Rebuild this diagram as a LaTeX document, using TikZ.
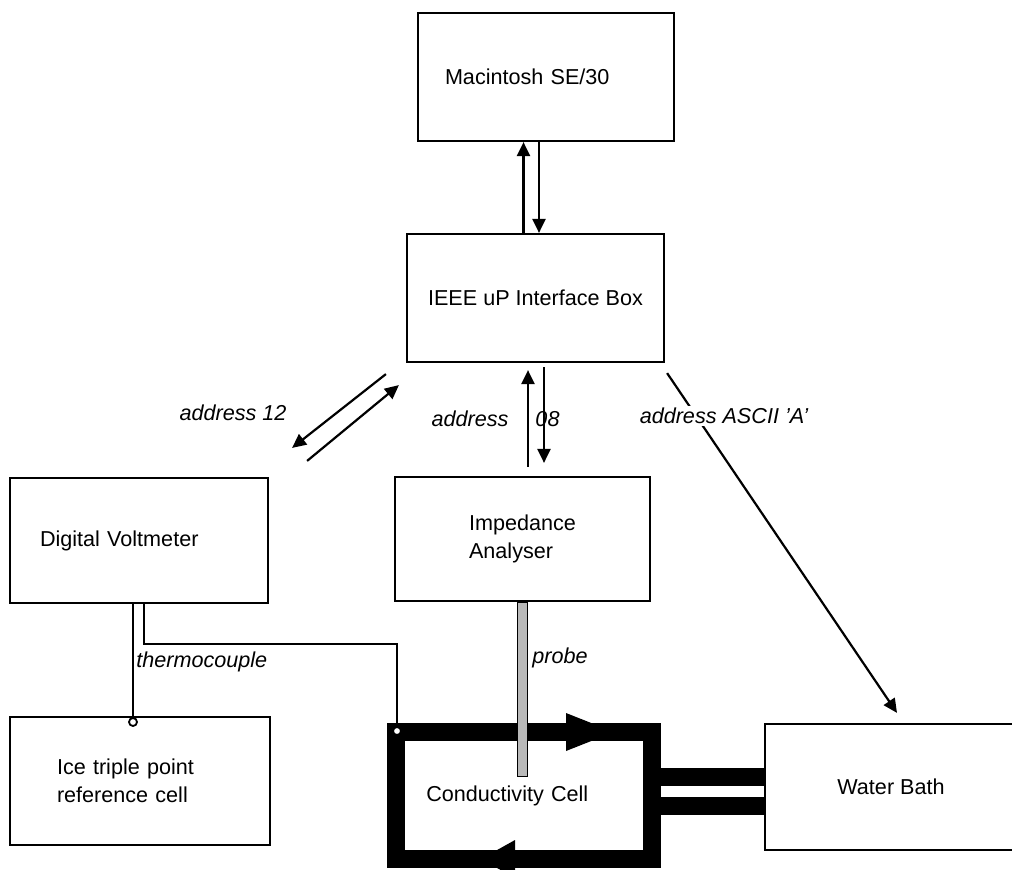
\documentclass[tikz,border=0pt]{standalone}
\usepackage{fontspec}
\setmainfont{Liberation Sans}
\usetikzlibrary{arrows.meta}

\begin{document}
\begin{tikzpicture}[x=0.5pt,y=-0.5pt,
    font=\fontsize{10.8}{14}\selectfont,
    box/.style={draw,line width=1.1pt,inner sep=0pt},
    arr/.style={line width=1.1pt,-{Triangle[length=7pt,width=6.5pt]}},
    lbl/.style={font=\fontsize{10.8}{14}\selectfont\itshape,inner sep=1pt},
    pipe/.style={line width=9pt},
    jct/.style={circle,draw,line width=0.9pt,fill=white,inner sep=0pt,minimum size=4pt}]
  \useasboundingbox (0,0) rectangle (1012,869);

  % instruments
  \node[box,minimum width=128pt,minimum height=64pt,text width=101pt,inner xsep=13.5pt,align=left] (mac) at (546,77) {Macintosh SE/30};
  \node[box,minimum width=128.5pt,minimum height=64pt] (ieee) at (535.5,298) {IEEE uP Interface Box};
  \node[box,minimum width=129pt,minimum height=62.5pt,text width=99pt,inner xsep=15pt,align=left] (dvm) at (139,540.5) {Digital Voltmeter};
  \node[box,minimum width=127.5pt,minimum height=62pt,align=left] (imp) at (522.5,539) {Impedance\\Analyser};
  \node[box,minimum width=130pt,minimum height=64pt,text width=83pt,inner xsep=23.5pt,align=left] (ice) at (140,781) {Ice triple point\\reference cell};
  \node[box,minimum width=126pt,minimum height=63pt] (bath) at (891,787) {Water Bath};
  \node[draw,line width=9pt,minimum width=127.75pt,minimum height=63.5pt,text width=97.75pt,inner xsep=15pt,align=left] (cell) at (524,795.5) {Conductivity Cell};

  % flow round the cell
  \fill (566,713) -- (614,732) -- (566,751) -- cycle;
  \fill (515,840) -- (481,859) -- (515,878) -- cycle;
  \draw[pipe] ([shift={(0,-18.5)}]cell.east) -- ([shift={(0,-18.5)}]cell.east -| bath.west);
  \draw[pipe] ([shift={(0,10.5)}]cell.east) -- ([shift={(0,10.5)}]cell.east -| bath.west);

  % probe
  \draw[line width=0.6pt,fill=gray!55] ([shift={(-5,0)}]imp.south) rectangle ([shift={(5,174)}]imp.south);
  \node[lbl,anchor=west] (problbl) at (530,658) {probe};

  % bus
  \draw[arr] ([shift={(-12,0)}]ieee.north) -- ([shift={(-12,0)}]ieee.north |- mac.south);
  \draw[arr] ([shift={(3.5,0)}]ieee.north |- mac.south) -- ([shift={(3.5,0)}]ieee.north);
  \draw[arr,shorten <=4.5pt,shorten >=3.5pt] ([shift={(5.5,0)}]imp.north) -- ([shift={(5.5,0)}]imp.north |- ieee.south);
  \draw[arr,shorten <=2pt,shorten >=6.5pt] ([shift={(21.5,0)}]imp.north |- ieee.south) -- ([shift={(21.5,0)}]imp.north);
  \draw[arr] ([shift={(-20,11)}]ieee.south west) -- ([shift={(23,-29)}]dvm.north east);
  \draw[arr] ([shift={(38,-16)}]dvm.north east) -- ([shift={(-7,22)}]ieee.south west);
  \draw[arr] ([shift={(2,10)}]ieee.south east) -- ([shift={(6,-10)}]bath.north);
  \node[lbl] (a12lbl) at (233,413) {address 12};
  \node[lbl] (a08lbl) at (470,419) {address};
  \node[lbl] (a08num) at (547.5,419) {08};
  \node[lbl,fill=white] (asciilbl) at (724,416) {address ASCII 'A'};

  % thermocouple
  \node[jct] (icejn) at (133,722) {};
  \node[jct] (celljn) at (397,731) {};
  \draw[line width=1.1pt] ([shift={(-6,0)}]dvm.south) -- (icejn);
  \draw[line width=1.1pt] ([shift={(5,0)}]dvm.south) -- ++(0,40) -| (celljn);
  \node[lbl,anchor=west] (tclbl) at (134,662) {thermocouple};
\end{tikzpicture}
\end{document}
